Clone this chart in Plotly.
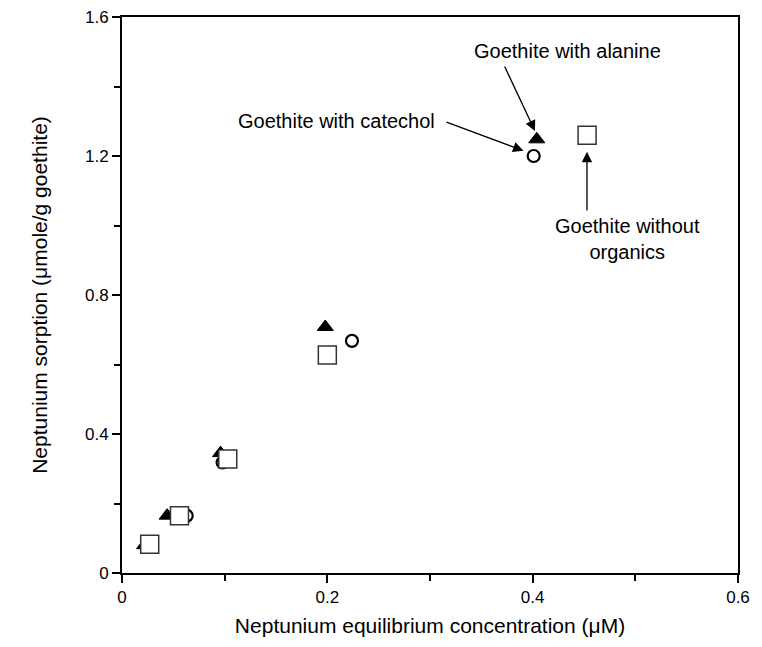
import plotly.graph_objects as go

# Data
alanine_x = [0.022, 0.044, 0.096, 0.198, 0.404]
alanine_y = [0.080, 0.165, 0.345, 0.708, 1.248]

catechol_x = [0.063, 0.098, 0.224, 0.401]
catechol_y = [0.165, 0.318, 0.668, 1.200]

none_x = [0.027, 0.056, 0.103, 0.200, 0.453]
none_y = [0.083, 0.165, 0.328, 0.627, 1.260]

x_ticks = [0, 0.2, 0.4, 0.6]
x_tick_labels = ["0", "0.2", "0.4", "0.6"]
y_ticks = [0, 0.4, 0.8, 1.2, 1.6]
y_tick_labels = ["0", "0.4", "0.8", "1.2", "1.6"]

FONT = "Liberation Sans, Arial, sans-serif"

fig = go.Figure()
fig.add_trace(go.Scatter(
    x=alanine_x, y=alanine_y, mode="markers", name="Goethite with alanine",
    marker=dict(symbol="triangle-up", size=14, color="black",
                line=dict(color="black", width=1))))
fig.add_trace(go.Scatter(
    x=catechol_x, y=catechol_y, mode="markers", name="Goethite with catechol",
    marker=dict(symbol="circle", size=12, color="white",
                line=dict(color="black", width=2.2))))
fig.add_trace(go.Scatter(
    x=none_x, y=none_y, mode="markers", name="Goethite without organics",
    marker=dict(symbol="square", size=18, color="white",
                line=dict(color="#333333", width=1.5))))

arrow_common = dict(showarrow=True, arrowhead=2, arrowsize=1.6, arrowwidth=1.3,
                    arrowcolor="black", axref="x", ayref="y", xref="x", yref="y",
                    text="", standoff=0)
# arrows (head at x,y ; tail at ax,ay)
fig.add_annotation(x=0.4022, y=1.272, ax=0.372, ay=1.462, **arrow_common)
fig.add_annotation(x=0.391, y=1.215, ax=0.3146, ay=1.299, **arrow_common)
fig.add_annotation(x=0.4529, y=1.212, ax=0.4529, ay=1.039, **arrow_common)

txt_font = dict(family=FONT, size=20, color="black")
fig.add_annotation(x=0.434, y=1.502, xref="x", yref="y", text="Goethite with alanine",
                   showarrow=False, font=txt_font, xanchor="center", yanchor="middle")
fig.add_annotation(x=0.307, y=1.301, xref="x", yref="y", text="Goethite with catechol",
                   showarrow=False, font=txt_font, xanchor="right", yanchor="middle")
fig.add_annotation(x=0.492, y=1.036, xref="x", yref="y",
                   text="Goethite without<br>organics",
                   showarrow=False, font=txt_font, xanchor="center", yanchor="top",
                   align="center")

fig.update_layout(
    width=746, height=631,
    margin=dict(l=114, r=16, t=9, b=66, autoexpand=False),
    paper_bgcolor="white", plot_bgcolor="white",
    showlegend=False,
    font=dict(family=FONT, size=17, color="black"),
    xaxis=dict(
        range=[0, 0.6], tickvals=x_ticks, ticktext=x_tick_labels,
        showgrid=False, zeroline=False, showline=True, linecolor="black",
        linewidth=2, mirror=True, ticks="outside", ticklen=8, tickwidth=1.5,
        tickcolor="black", automargin=False, ticklabeloverflow="allow",
        minor=dict(ticks="outside", dtick=0.1, ticklen=6, tickwidth=1.5,
                   tickcolor="black"),
        title=dict(text="Neptunium equilibrium concentration (\u03bcM)",
                   font=dict(family=FONT, size=21), standoff=12),
        tickfont=dict(family=FONT, size=17),
    ),
    yaxis=dict(
        range=[0, 1.6], tickvals=y_ticks, ticktext=y_tick_labels,
        showgrid=False, zeroline=False, showline=True, linecolor="black",
        linewidth=2, mirror=True, ticks="outside", ticklen=8, tickwidth=1.5,
        tickcolor="black", automargin=False, ticklabeloverflow="allow",
        minor=dict(ticks="outside", dtick=0.2, ticklen=6, tickwidth=1.5,
                   tickcolor="black"),
        title=dict(text="Neptunium sorption (\u03bcmole/g goethite)",
                   font=dict(family=FONT, size=21), standoff=32),
        tickfont=dict(family=FONT, size=17),
    ),
)

fig.write_html("out.html")
